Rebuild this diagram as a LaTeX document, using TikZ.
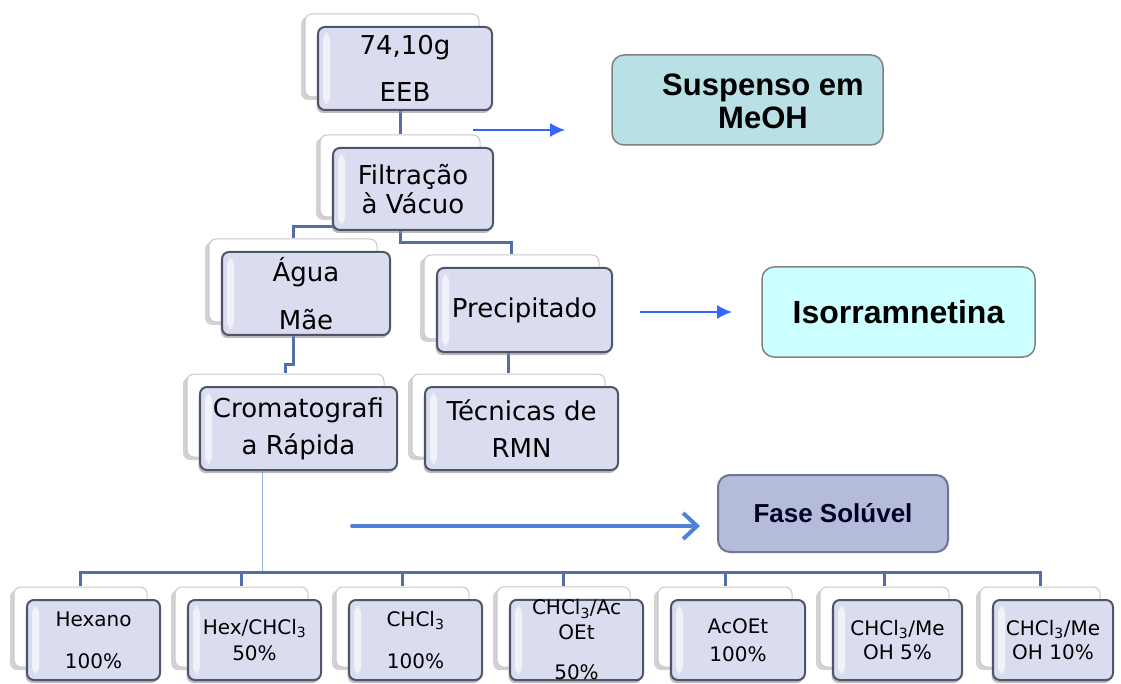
\documentclass[tikz,border=0pt]{standalone}
\usepackage{fontspec}
\setmainfont{DejaVu Sans}
\newfontfamily\arialfont{Liberation Sans}
\usetikzlibrary{calc,shadows,arrows.meta,backgrounds}

\definecolor{boxfill}{RGB}{218,221,240}
\definecolor{boxline}{RGB}{78,85,104}
\definecolor{cardline}{RGB}{200,200,204}
\definecolor{linkblue}{RGB}{84,110,170}
\definecolor{thinblue}{RGB}{140,178,230}
\definecolor{arrowblue}{RGB}{51,102,255}
\definecolor{arrowblue2}{RGB}{79,129,217}
\definecolor{suspfill}{RGB}{185,224,228}
\definecolor{isofill}{RGB}{204,255,255}
\definecolor{fasefill}{RGB}{180,188,218}
\definecolor{faseline}{RGB}{110,118,145}

\begin{document}
\begin{tikzpicture}[x=1pt,y=-1pt,
	orgbox/.style={draw=boxline, line width=2pt, fill=boxfill, rounded corners=7pt, inner sep=0pt, align=center,
		general shadow={shadow xshift=-17pt, shadow yshift=10pt, fill=black!35, opacity=.5},
		copy shadow={shadow xshift=-13pt, shadow yshift=13pt, fill=white, draw=cardline, line width=1pt},
		drop shadow={shadow xshift=-1.5pt, shadow yshift=-3pt, fill=black!45, opacity=.6},
		path picture={\fill[white,opacity=.6] ([xshift=5pt,yshift=-6pt]path picture bounding box.north west) rectangle ([xshift=12pt,yshift=6pt]path picture bounding box.south west);}},
	upper/.style={font=\fontsize{26}{30}\selectfont},
	lower/.style={font=\fontsize{20}{24}\selectfont},
	resbox/.style={draw=black!50, line width=1.5pt, rounded corners=12pt, inner sep=0pt, align=center},
	restext/.style={align=center, inner sep=0pt, font=\arialfont\bfseries\fontsize{31}{33}\selectfont},
	link/.style={draw=linkblue, line width=3pt},
	thinlink/.style={draw=thinblue, line width=1pt},
	thinarrow/.style={draw=arrowblue, line width=1.5pt, -{Latex[length=15pt,width=14pt]}},
	bigarrow/.style={draw=arrowblue2, line width=4pt, line cap=round, -{Straight Barb[length=14pt,width=26pt]}}]
	\useasboundingbox (0,0) rectangle (1121,684);

	% upper chart
	\node[orgbox, upper, minimum width=174, minimum height=83] (EEB) at (405,68.5) {74,10g\\[17pt]EEB};
	\node[orgbox, upper, minimum width=160, minimum height=82] (Filt) at (413,189) {Filtração\\[-1pt]à Vácuo};
	\node[orgbox, upper, minimum width=168, minimum height=83] (Agua) at (306,293.5) {Água\\[18pt]Mãe};
	\node[orgbox, upper, minimum width=175, minimum height=84] (Prec) at (524.5,310) {Precipitado};
	\node[orgbox, upper, minimum width=197, minimum height=83] (Crom) at (298.5,428.5) {Cromatografi\\[7pt]a Rápida};
	\node[orgbox, upper, minimum width=193, minimum height=83] (Tec) at (521.5,428.5) {Técnicas de\\[7pt]RMN};
	\coordinate (Filt-top) at ($(Filt.north)+(-13,-13)$);
	\coordinate (Agua-top) at ($(Agua.north)+(-13,-13)$);
	\coordinate (Prec-top) at ($(Prec.north)+(-13,-13)$);
	\coordinate (Crom-top) at ($(Crom.north)+(-13,-13)$);
	\coordinate (Tec-top) at ($(Tec.north)+(-13,-13)$);

	% result boxes
	\node[resbox, fill=suspfill, minimum width=271, minimum height=90] (Susp) at (747.5,100) {};
	\node[restext] (Susp-t) at (763,101) {Suspenso em\\MeOH};
	\node[resbox, fill=isofill, minimum width=273, minimum height=90, font=\arialfont\bfseries\fontsize{32}{36}\selectfont] (Iso) at (898.5,312) {Isorramnetina};
	\node[resbox, fill=fasefill, draw=faseline, line width=2pt, minimum width=230, minimum height=77, text=black!85!blue, font=\arialfont\bfseries\fontsize{26}{30}\selectfont] (Fase) at (833,513.5) {Fase Solúvel};

	% solvent row
	\foreach \k/\cx/\w/\txt in {
		1/93.5/133/{Hexano\\[18pt]100\%},
		2/254.5/133/{Hex/CHCl\textsubscript{3}\\[2pt]50\%},
		3/415.5/133/{CHCl\textsubscript{3}\\[18pt]100\%},
		4/576.5/133/{CHCl\textsubscript{3}/Ac\\[1pt]OEt\\[16pt]50\%},
		5/738/134/{AcOEt\\[4pt]100\%},
		6/897.5/129/{CHCl\textsubscript{3}/Me\\OH 5\%},
		7/1053/120/{CHCl\textsubscript{3}/Me\\OH 10\%}}
	{
		\node[orgbox, lower, minimum width=\w, minimum height=80] (sol\k) at (\cx,640) {\txt};
		\coordinate (sol\k-top) at ($(sol\k.north)+(-13,-13)$);
	}
	\coordinate (bus-mid) at (262,572);

	% connectors
	\begin{scope}[on background layer]
		\draw[link] (Filt-top |- EEB.south) -- (Filt-top);
		\draw[link] (Agua-top) |- ($(Filt.west)!.9!(Filt.south west)+(6,0)$);
		\draw[link] (Filt-top |- Filt.south) -- ++(0,12) -| (Prec-top);
		\draw[link] (Agua-top |- Agua.south) -- ++(0,28) -| (Crom-top);
		\draw[link] (Tec-top |- Prec.south) -- (Tec-top);
		\draw[thinlink] (bus-mid |- Crom.south) -- (bus-mid);
		\draw[link] (sol1-top) |- (bus-mid) -| (sol7-top);
		\foreach \k in {2,...,6}
			\draw[link] (sol\k-top |- bus-mid) -- (sol\k-top);
	\end{scope}

	% arrows
	\coordinate (a1-s) at (473,130);
	\coordinate (a1-e) at (565,130);
	\coordinate (a2-s) at (640,312);
	\coordinate (a2-e) at (732,312);
	\coordinate (a3-s) at (352,526);
	\coordinate (a3-e) at (700,526);
	\draw[thinarrow] (a1-s) -- (a1-e);
	\draw[thinarrow] (a2-s) -- (a2-e);
	\draw[bigarrow] (a3-s) -- (a3-e);
\end{tikzpicture}
\end{document}
